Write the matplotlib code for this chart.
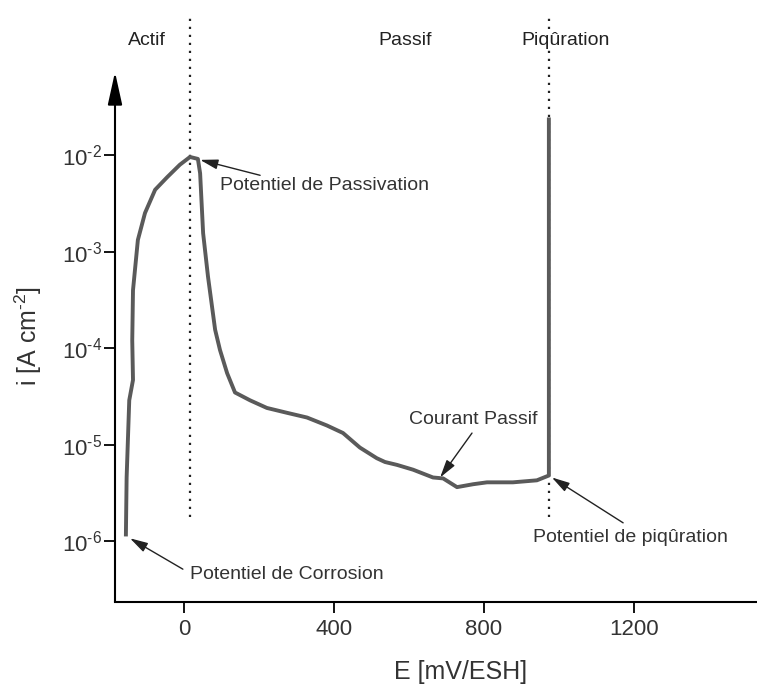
"""Polarisation curve (actif / passif / piqûration) on a log current axis."""
import matplotlib
matplotlib.use("Agg")
import matplotlib.pyplot as plt
from matplotlib.ticker import FuncFormatter, NullLocator
import numpy as np

plt.rcParams["font.family"] = ["Liberation Sans", "DejaVu Sans"]
plt.rcParams["mathtext.fontset"] = "custom"
plt.rcParams["mathtext.rm"] = "Liberation Sans"

# curve: potential (mV/ESH) and current density (A/cm2)
E_mv = [-155, -153, -146, -136, -138, -136, -123, -104, -77, -45, -11, 16, 37,
        43, 51, 64, 83, 96, 115, 136, 176, 221, 274, 328, 381, 424, 469, 514,
        536, 568, 611, 664, 691, 728, 771, 808, 877, 941, 973, 973]
i_acm2 = [1.12e-6, 4.57e-6, 2.88e-5, 4.68e-5, 1.20e-4, 3.98e-4, 1.32e-3,
          2.51e-3, 4.37e-3, 5.89e-3, 7.94e-3, 9.55e-3, 9.12e-3, 6.46e-3,
          1.55e-3, 5.50e-4, 1.55e-4, 9.55e-5, 5.50e-5, 3.47e-5, 2.88e-5,
          2.40e-5, 2.14e-5, 1.91e-5, 1.58e-5, 1.32e-5, 9.33e-6, 7.24e-6,
          6.61e-6, 6.17e-6, 5.50e-6, 4.57e-6, 4.47e-6, 3.63e-6, 3.89e-6,
          4.07e-6, 4.07e-6, 4.27e-6, 4.79e-6, 2.45e-2]

xticks = [0, 400, 800, 1200]
yticks = [1e-6, 1e-5, 1e-4, 1e-3, 1e-2]

E_passivation = 16
E_piqure = 973

regions = ["Actif", "Passif", "Piqûration"]
region_x = [-99, 589, 1018]

# (text, arrow tip, arrow tail, text anchor, ha)
notes = [
    ("Potentiel de Passivation", (43, 10**-2.05), (203, 10**-2.21), (96, 10**-2.32), "left"),
    ("Potentiel de Corrosion", (-144, 10**-5.97), (-3, 10**-6.29), (16, 10**-6.35), "left"),
    ("Courant Passif", (683, 10**-5.34), (768, 10**-4.88), (771, 10**-4.74), "center"),
    ("Potentiel de piqûration", (981, 10**-5.34), (1171, 10**-5.81), (931, 10**-5.96), "left"),
]


def decade_label(v, pos):
    return r"10$^{\text{-}%d}$" % round(-np.log10(v))


fig = plt.figure(figsize=(7.57, 6.9), dpi=100)
ax = fig.add_axes([115 / 757, 88 / 690, 1 - 115 / 757, 602 / 690])
ax.set_yscale("log")
ax.set_xlim(-184, 1528)
ymin, ymax = 10**-6.63, 10**-0.394
ax.set_ylim(ymin, ymax)

# dotted region separators
for xv in (E_passivation, E_piqure):
    ax.plot([xv, xv], [10**-5.75, 10**-0.55], color="#222222", lw=1.6,
            linestyle=(0, (1, 2.6)), zorder=1)

ax.plot(E_mv, i_acm2, color="#5a5a5a", lw=2.8, solid_joinstyle="round",
        solid_capstyle="butt", zorder=3)

for name, xv in zip(regions, region_x):
    bbox = dict(facecolor="white", edgecolor="none", pad=1) if name == "Piqûration" else None
    ax.text(xv, 10**-0.81, name, ha="center", va="center", fontsize=14,
            color="#222222", bbox=bbox, zorder=4)

for text, tip, tail, pos, ha in notes:
    ax.annotate("", xy=tip, xytext=tail,
                arrowprops=dict(arrowstyle="-|>,head_length=0.9,head_width=0.25",
                                color="#222222", lw=1.0, mutation_scale=12,
                                shrinkA=0, shrinkB=0), zorder=4)
    ax.text(pos[0], pos[1], text, ha=ha, va="center", fontsize=14, color="#333333")

# axes styling
for s in ("top", "right", "left"):
    ax.spines[s].set_visible(False)
ax.spines["bottom"].set_linewidth(1.5)
ax.annotate("", xy=(-184, 10**-1.14), xytext=(-184, ymin),
            arrowprops=dict(arrowstyle="-|>,head_length=1.0,head_width=0.22",
                            color="black", lw=1.5, mutation_scale=20,
                            shrinkA=0, shrinkB=0),
            annotation_clip=False)

ax.set_xticks(xticks)
ax.set_yticks(yticks)
ax.yaxis.set_minor_locator(NullLocator())
ax.yaxis.set_major_formatter(FuncFormatter(decade_label))
ax.tick_params(axis="both", direction="out", length=8, width=1.3,
               labelsize=16, labelcolor="#333333", pad=4)
ax.tick_params(axis="y", pad=1)

fig.text(461 / 757, 1 - 672 / 690, "E [mV/ESH]", ha="center", va="center",
         fontsize=18, color="#333333")
fig.text(28 / 757, 1 - 336 / 690, r"i [A cm$^{\text{-}2}$]", ha="center", va="center",
         rotation=90, fontsize=18, color="#333333")

fig.savefig("out.png", dpi=100)
